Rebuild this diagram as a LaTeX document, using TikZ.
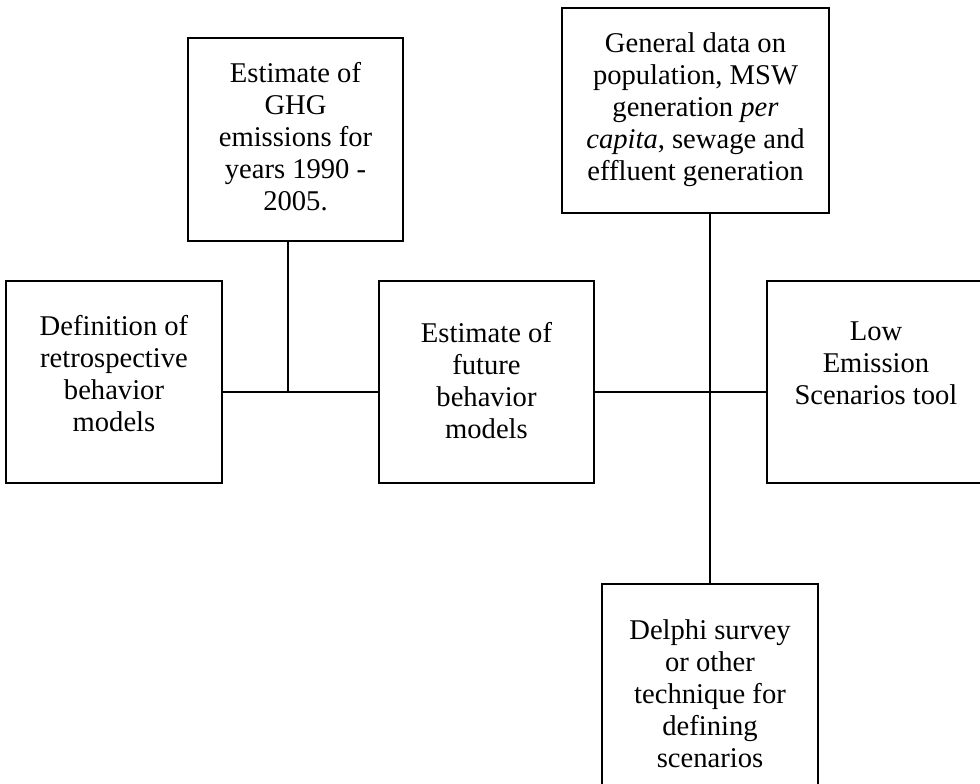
\documentclass[tikz,border=0pt]{standalone}
\usepackage{fontspec}
\setmainfont{Liberation Serif}
\usetikzlibrary{positioning}
\tikzset{font=\fontsize{28.6}{32}\selectfont}
\tikzstyle{blk}=[draw,line width=1.5pt,inner sep=0pt,outer sep=0pt]
\newcommand{\blocktext}[4]{\parbox[c][#1pt][t]{#2pt}{\centering\vspace*{#3pt}#4\par}}

\begin{document}
\begin{tikzpicture}[x=1pt,y=-1pt,line width=1.5pt]
\useasboundingbox (0,0) rectangle (980,784);
\node[blk] (E) at (295.5,139.5) {\blocktext{203}{215}{24}{Estimate of\\GHG\\emissions for\\years 1990 -\\2005.}};
\node[blk] (D) at (695.5,110.5) {\blocktext{205}{267}{25}{General data on\\population, MSW\\generation \textit{per}\\\textit{capita}, sewage and\\effluent generation}};
\node[blk] (R) at (114,382) {\blocktext{202}{216}{34}{Definition of\\retrospective\\behavior\\models}};
\node[blk] (F) at (486.5,382) {\blocktext{202}{215}{41}{Estimate of\\future\\behavior\\models}};
\node[blk] (L) at (876,382) {\blocktext{202}{218}{41}{Low\\Emission\\Scenarios tool}};
\node[blk] (P) at (710,692) {\blocktext{216}{216}{36}{Delphi survey\\or other\\technique for\\defining\\scenarios}};
\coordinate (J1) at (288,392);
\coordinate (J2) at (710,392);
\path[draw]
(R.east |- J1) -- (F.west |- J1)
(F.east |- J2) -- (L.west |- J2)
(J1) -- (J1 |- E.south)
(P.north) -- (P.north |- D.south);
\end{tikzpicture}
\end{document}
